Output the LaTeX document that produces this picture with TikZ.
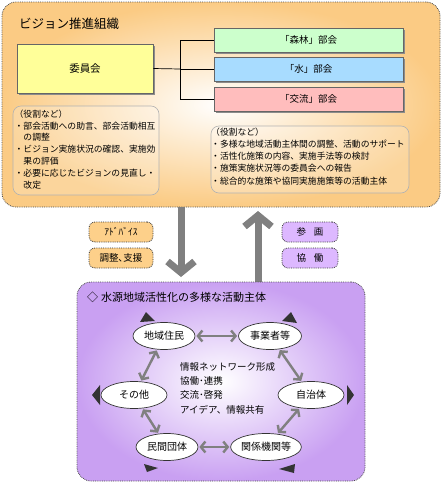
\documentclass[tikz,border=0pt]{standalone}
\usepackage{fontspec}
\setmainfont{Noto Sans CJK JP}
\usetikzlibrary{shapes.geometric,arrows.meta,shadows}
\definecolor{orangebg}{HTML}{FBCB84}
\definecolor{purplebg}{HTML}{C9A0F2}
\definecolor{tagorange}{HTML}{FDD08A}
\definecolor{tagpurple}{HTML}{DDB8FF}
\definecolor{yellowbox}{HTML}{FFFF99}
\definecolor{greenbox}{HTML}{CCFFCC}
\definecolor{bluebox}{HTML}{A8DCFF}
\definecolor{pinkbox}{HTML}{FFBDBD}
\definecolor{arrowgray}{HTML}{808080}
\begin{document}
\begin{tikzpicture}[x=1pt,y=-1pt,
  panel/.style={rounded corners=14pt, densely dotted, draw=black!70, line width=0.8pt, inner sep=0pt},
  mainbox/.style={draw=black!60, line width=0.6pt, inner sep=0pt,
    drop shadow={shadow xshift=2pt,shadow yshift=-2pt,fill=black!45,opacity=1}},
  rolebox/.style={draw=black!30, rounded corners=8pt, line width=0.6pt, fill=white, fill opacity=0.2, inner sep=0pt},
  roletext/.style={anchor=north west, align=left, inner sep=0pt, font=\fontsize{8.8}{11.8}\selectfont},
  tag/.style={rounded corners=6pt, densely dotted, draw=black!80, line width=0.8pt,
    minimum height=20pt, inner sep=0pt, font=\fontsize{9.5}{11}\selectfont},
  actor/.style={ellipse, draw=black!80, fill=white, line width=0.7pt, inner sep=0pt,
    minimum height=27pt, font=\fontsize{10}{12}\selectfont},
  link/.style={draw=arrowgray, line width=2.4pt, shorten <=1pt, shorten >=1pt,
    {Straight Barb[length=4.5pt,width=11pt]}-{Straight Barb[length=4.5pt,width=11pt]}},
  bigarrow/.style={draw=arrowgray, line width=7pt, -{Straight Barb[length=11pt,width=27pt]}},
  turn/.style={fill=black!80},
  orgline/.style={draw=black, line width=0.7pt}
]
\useasboundingbox (0,0) rectangle (442,483);

% ---------- top panel ----------
\node[panel, inner color=white, outer color=orangebg, minimum width=438pt, minimum height=205pt] (top) at (221,104.5) {};
\node[anchor=west, inner sep=0pt, font=\fontsize{12.5}{14}\selectfont] (toptitle) at (19,24) {ビジョン推進組織};

\node[mainbox, fill=yellowbox, minimum width=136pt, minimum height=49pt, font=\fontsize{10.5}{12}\selectfont] (iin) at (85,68.5) {委員会};
\node[mainbox, fill=greenbox, minimum width=189pt, minimum height=24pt, font=\fontsize{9.5}{11}\selectfont] (mori) at (308.5,40) {「森林」部会};
\node[mainbox, fill=bluebox, minimum width=189pt, minimum height=24pt, font=\fontsize{9.5}{11}\selectfont] (mizu) at (308.5,69) {「水」部会};
\node[mainbox, fill=pinkbox, minimum width=189pt, minimum height=24pt, font=\fontsize{9.5}{11}\selectfont] (kouryu) at (308.5,99) {「交流」部会};

\coordinate (hub) at (180,69);
\draw[orgline] (iin.east) -- (hub);
\draw[orgline] (mori.west) -| (hub);
\draw[orgline] (mizu.west) -- (hub);
\draw[orgline] (kouryu.west) -| (hub);

\node[rolebox, minimum width=146pt, minimum height=89pt] (roleL) at (86,150.5) {};
\node[roletext] (roleLtext) at (14.5,109.5) {（役割など）\\・部会活動への助言、部会活動相互\\　の調整\\・ビジョン実施状況の確認、実施効\\　果の評価\\・必要に応じたビジョンの見直し・\\　改定};

\node[rolebox, minimum width=198pt, minimum height=67pt] (roleR) at (310,159.5) {};
\node[roletext, font=\fontsize{8.8}{12.2}\selectfont] (roleRtext) at (211,127.5) {（役割など）\\・多様な地域活動主体間の調整、活動のサポート\\・活性化施策の内容、実施手法等の検討\\・施策実施状況等の委員会への報告\\・総合的な施策や協同実施施策等の活動主体};

% ---------- middle ----------
\coordinate (dnA) at (181,207);
\coordinate (dnB) at (181,277);
\coordinate (upA) at (258,282);
\coordinate (upB) at (258,211);
\draw[bigarrow] (dnA) -- (dnB);
\draw[bigarrow] (upA) -- (upB);

\node[tag, fill=tagorange, minimum width=64pt] (advice) at (121,232) {ｱﾄﾞﾊﾞｲｽ};
\node[tag, fill=tagorange, minimum width=64pt] (support) at (121,258) {調整､支援};
\node[tag, fill=tagpurple, minimum width=56pt] (sankaku) at (310,232) {参\hspace{0.8em}画};
\node[tag, fill=tagpurple, minimum width=56pt] (kyodo) at (310,258) {協\hspace{0.8em}働};

% ---------- bottom panel ----------
\node[panel, inner color=white, outer color=purplebg, minimum width=288pt, minimum height=199pt] (bot) at (221,381.5) {};
\node[anchor=west, inner sep=0pt, font=\fontsize{11}{13}\selectfont] (bottitle) at (87,297) {◇\hspace{3pt}水源地域活性化の多様な活動主体};

\node[actor, minimum width=62pt] (jumin) at (164,336) {地域住民};
\node[actor, minimum width=63pt] (jigyo) at (270,336) {事業者等};
\node[actor, minimum width=66pt] (sonota) at (134,395) {その他};
\node[actor, minimum width=66pt] (jichi) at (311,395) {自治体};
\node[actor, minimum width=62pt] (minkan) at (167,447) {民間団体};
\node[actor, minimum width=65pt] (kankei) at (266,447) {関係機関等};

\draw[link] (jumin) -- (jigyo);
\draw[link] (jumin) -- (sonota);
\draw[link] (jigyo) -- (jichi);
\draw[link] (sonota) -- (minkan);
\draw[link] (jichi) -- (kankei);
\draw[link] (minkan) -- (kankei);

\node[anchor=north west, align=left, inner sep=0pt, font=\fontsize{9.5}{14.3}\selectfont] (center) at (180,362) {情報ネットワーク形成\\協働･連携\\交流･啓発\\アイデア、情報共有};

\fill[turn] (140,322) -- (146,312) -- (155,321) -- cycle;
\fill[turn] (282,321) -- (291,312) -- (297,323) -- cycle;
\fill[turn] (92,395) -- (100,385) -- (100,405) -- cycle;
\fill[turn] (347,385) -- (347,405) -- (354,395) -- cycle;
\fill[turn] (144,464) -- (147,472) -- (158,468) -- cycle;
\fill[turn] (295,464) -- (294,473) -- (279,469) -- cycle;
\end{tikzpicture}
\end{document}
